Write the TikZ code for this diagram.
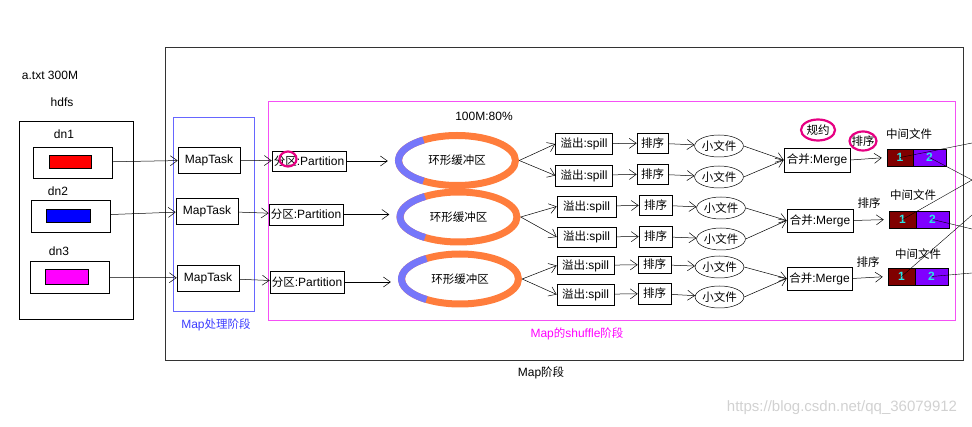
\documentclass[tikz,border=0pt]{standalone}
\usepackage{fontspec}
\setmainfont{Liberation Sans}
\newfontfamily\cjk{Noto Sans CJK SC}
\newcommand{\zh}[1]{{\cjk\fontsize{11.5}{14}\selectfont #1}}
\usetikzlibrary{positioning, shapes, arrows.meta}

\definecolor{ringorange}{RGB}{255,125,60}
\definecolor{ringblue}{RGB}{118,118,250}
\definecolor{pinkline}{RGB}{245,80,245}
\definecolor{markpink}{RGB}{230,0,130}
\definecolor{filered}{RGB}{128,0,0}
\definecolor{filepurple}{RGB}{128,0,255}
\definecolor{numcyan}{RGB}{40,230,230}
\definecolor{dnmagenta}{RGB}{255,0,255}
\definecolor{stageblue}{RGB}{60,60,255}

\begin{document}
\begin{tikzpicture}[x=1pt, y=-1pt, font=\fontsize{12}{14}\selectfont,
  box/.style={draw, line width=0.6pt, inner sep=1pt},
  fbox/.style={draw, line width=0.6pt, inner sep=0pt, minimum height=17, text=numcyan, font=\fontsize{12}{13}\selectfont\bfseries},
  smallfile/.style={ellipse, draw, line width=0.5pt, inner sep=0pt, minimum width=46, minimum height=22},
  arr/.style={line width=0.5pt, -{Straight Barb[length=7pt, width=10pt]}},
  pinkmark/.style={draw=markpink, line width=2.2pt, ellipse, inner sep=0pt}]

\useasboundingbox (0,0) rectangle (972,427);

% outer frames
\node[draw=black!80, line width=0.7pt, minimum width=798, minimum height=313, inner sep=0pt] (mapstage) at (564,203.5) {};
\node (mapstagelbl) at (541,373) {Map\zh{阶段}};
\node[draw=pinkline, line width=0.7pt, minimum width=687, minimum height=219, inner sep=0pt] (shuffle) at (611.5,210.5) {};
\node[text=dnmagenta] (shufflelbl) at (577,334) {Map\zh{的}shuffle\zh{阶段}};
\node[draw=blue!60, line width=0.7pt, minimum width=81, minimum height=194, inner sep=0pt] (mapproc) at (213.5,214) {};
\node[text=stageblue] (mapproclbl) at (216,325) {Map\zh{处理阶段}};

% hdfs side
\node (file) at (50,75) {a.txt 300M};
\node (hdfslbl) at (62,102) {hdfs};
\node[draw, line width=0.6pt, minimum width=114, minimum height=198, inner sep=0pt] (hdfs) at (76,220) {};

\node (dn1lbl) at (64,134) {dn1};
\node[box, minimum width=79, minimum height=31] (dn1) at (72.5,162.5) {};
\node[draw, fill=red, minimum width=42, minimum height=13, inner sep=0pt] (dn1blk) at (70,161.5) {};
\node (dn2lbl) at (58,191) {dn2};
\node[box, minimum width=79, minimum height=32] (dn2) at (70.5,216) {};
\node[draw, fill=blue, minimum width=44, minimum height=13, inner sep=0pt] (dn2blk) at (68,215.5) {};
\node (dn3lbl) at (59,251) {dn3};
\node[box, minimum width=79, minimum height=32] (dn3) at (69.5,277) {};
\node[draw, fill=dnmagenta, minimum width=43, minimum height=15, inner sep=0pt] (dn3blk) at (66.5,276.5) {};

% map tasks
\node[box, minimum width=62, minimum height=26] (mt1) at (209,160) {MapTask};
\node[box, minimum width=62, minimum height=26] (mt2) at (207,211) {MapTask};
\node[box, minimum width=62, minimum height=26] (mt3) at (208,278) {MapTask};

% partitions
\node[box, minimum width=74, minimum height=20] (p1) at (309,161) {\zh{分区}:Partition};
\node[box, minimum width=74, minimum height=21] (p2) at (306,214.5) {\zh{分区}:Partition};
\node[box, minimum width=74, minimum height=22] (p3) at (307,282) {\zh{分区}:Partition};

% ring buffers
\node (pct) at (484,116) {100M:80\%};
\foreach \n/\cx/\cy in {1/457/160.5, 2/458.5/217, 3/460/279} {
  \draw[ringorange, line width=7pt] (\cx,\cy) ellipse [x radius=58.5, y radius=25];
  \draw[ringblue, line width=7pt] (\cx,\cy) ++(125:58.5 and 25) arc [start angle=125, end angle=235, x radius=58.5, y radius=25];
  \node[ellipse, minimum width=124, minimum height=57, inner sep=0pt] (ring\n) at (\cx,\cy) {\zh{环形缓冲区}};
}

% spills
\node[box, minimum width=57, minimum height=21] (s1a) at (584,144) {\zh{溢出}:spill};
\node[box, minimum width=57, minimum height=21] (s1b) at (584,175.5) {\zh{溢出}:spill};
\node[box, minimum width=59, minimum height=21] (s2a) at (586.5,206.5) {\zh{溢出}:spill};
\node[box, minimum width=59, minimum height=20] (s2b) at (586.5,237) {\zh{溢出}:spill};
\node[box, minimum width=57, minimum height=18] (s3a) at (585.5,265.5) {\zh{溢出}:spill};
\node[box, minimum width=57, minimum height=21] (s3b) at (585.5,294.5) {\zh{溢出}:spill};

% sorts
\node[box, minimum width=31, minimum height=20] (o1a) at (652.5,143) {\zh{排序}};
\node[box, minimum width=31, minimum height=20] (o1b) at (652.5,174) {\zh{排序}};
\node[box, minimum width=33, minimum height=20] (o2a) at (655.5,205) {\zh{排序}};
\node[box, minimum width=33, minimum height=21] (o2b) at (655.5,236.5) {\zh{排序}};
\node[box, minimum width=33, minimum height=17] (o3a) at (654.5,264.5) {\zh{排序}};
\node[box, minimum width=33, minimum height=21] (o3b) at (654.5,293.5) {\zh{排序}};

% small files
\node[smallfile] (sf1a) at (719,146) {\zh{小文件}};
\node[smallfile] (sf1b) at (719,177) {\zh{小文件}};
\node[smallfile] (sf2a) at (721,208) {\zh{小文件}};
\node[smallfile] (sf2b) at (721,239) {\zh{小文件}};
\node[smallfile] (sf3a) at (719.5,267) {\zh{小文件}};
\node[smallfile] (sf3b) at (719.5,297) {\zh{小文件}};

% merges
\node[box, minimum width=66, minimum height=24] (m1) at (817,160) {\zh{合并}:Merge};
\node[box, minimum width=66, minimum height=23] (m2) at (820,220.5) {\zh{合并}:Merge};
\node[box, minimum width=65, minimum height=23] (m3) at (819.5,278.5) {\zh{合并}:Merge};

\node (reduce) at (818,130) {\zh{规约}};
\node (sort1) at (863,141) {\zh{排序}};
\node (sort2) at (869,203) {\zh{排序}};
\node (sort3) at (868,262) {\zh{排序}};

% intermediate files
\node (mid1) at (909,134) {\zh{中间文件}};
\node (mid2) at (913,195) {\zh{中间文件}};
\node (mid3) at (918,254) {\zh{中间文件}};
\node[fbox, fill=filered, minimum width=26] (f1a) at (900,157.5) {1};
\node[fbox, fill=filepurple, minimum width=33] (f1b) at (929.5,157.5) {2};
\node[fbox, fill=filered, minimum width=27] (f2a) at (902.5,219.5) {1};
\node[fbox, fill=filepurple, minimum width=33] (f2b) at (932.5,219.5) {2};
\node[fbox, fill=filered, minimum width=27] (f3a) at (901.5,276.5) {1};
\node[fbox, fill=filepurple, minimum width=33] (f3b) at (931.5,276.5) {2};

% pink marks
\node[pinkmark, minimum width=17, minimum height=15] (mk1) at (288,159) {};
\node[pinkmark, minimum width=34, minimum height=21] (mk2) at (818,130) {};
\node[pinkmark, minimum width=27, minimum height=19] (mk3) at (863,141) {};

% connectors
\draw[arr] (dn1) -- (mt1);
\draw[arr] (dn2) -- (mt2);
\draw[arr] (dn3) -- (mt3);
\draw[arr] (mt1) -- (p1);
\draw[arr] (mt2) -- (p2);
\draw[arr] (mt3) -- (p3);
\foreach \n in {1,2,3} {
  \draw[arr, shorten >=7pt] (p\n.east) -- (ring\n.west |- p\n.east);
  \draw[arr] (ring\n.east) -- (s\n a.west);
  \draw[arr] (ring\n.east) -- (s\n b.west);
  \draw[arr] (s\n a) -- (o\n a);
  \draw[arr] (s\n b) -- (o\n b);
  \draw[arr] (o\n a) -- (sf\n a);
  \draw[arr] (o\n b) -- (sf\n b);
  \draw[arr] (sf\n a.east) -- (m\n.west);
  \draw[arr] (sf\n b.east) -- (m\n.west);
  \draw[arr, shorten >=5pt] (m\n.east) -- (f\n a.west);
}

% towards the reduce side
\coordinate (r1) at (972,143);
\coordinate (r2) at (972,180);
\coordinate (r3) at (972,229);
\coordinate (r4) at (972,215);
\coordinate (r5) at (972,273);
\draw[line width=0.4pt] (f1a.center) -- (r1);
\draw[line width=0.4pt] (f1b.center) -- (r2);
\draw[line width=0.4pt] (f2a.center) -- (r2);
\draw[line width=0.4pt] (f2b.center) -- (r3);
\draw[line width=0.4pt] (f3a.center) -- (r4);
\draw[line width=0.4pt] (f3b.center) -- (r5);

\node[text=black!18, font=\fontsize{15}{17}\selectfont] (wmark) at (842,408) {https://blog.csdn.net/qq\_36079912};
\end{tikzpicture}
\end{document}
